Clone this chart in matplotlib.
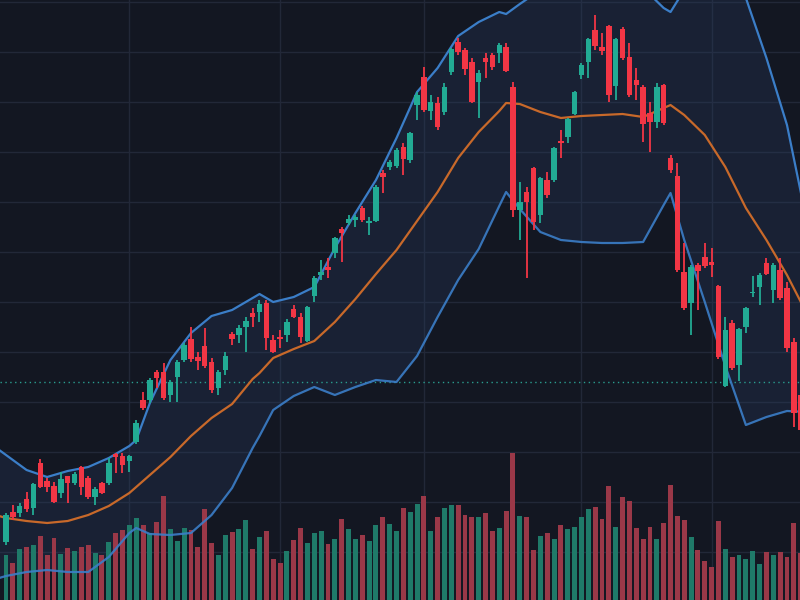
"""
Grafico de velas con bandas de Bollinger y volumen (estilo terminal oscuro).
"""
import numpy as np
import matplotlib
matplotlib.use("Agg")
import matplotlib.pyplot as plt

#<---------------------------Datos---------------------------->
opens = [58, 88, 87, 101, 92, 137, 119, 114, 107, 124, 117, 133, 122, 103, 117, 117, 146, 144, 139, 158,
         200, 200, 228, 228, 205, 223, 240, 261, 243, 254, 238, 212, 230, 266, 265, 273, 287, 288, 297, 260,
         263, 265, 291, 283, 259, 304, 325, 333, 347, 371, 377, 380, 392, 377, 379, 427, 433, 434, 453, 440,
         495, 523, 489, 497, 488, 528, 558, 550, 538, 518, 542, 545, 547, 553, 513, 390, 408, 432, 385, 420,
         420, 459, 463, 486, 525, 538, 570, 553, 574, 514, 571, 543, 520, 513, 487, 478, 515, 442, 424, 328,
         297, 335, 343, 338, 314, 214, 277, 235, 273, 307, 313, 337, 310, 330, 312, 258, 205]
closes = [85, 83, 94, 91, 116, 113, 113, 98, 121, 117, 126, 113, 103, 111, 107, 137, 143, 135, 144, 177,
          192, 220, 222, 202, 218, 238, 255, 241, 239, 234, 210, 228, 244, 261, 272, 279, 283, 296, 262, 248,
          261, 278, 283, 263, 293, 322, 328, 330, 362, 367, 381, 383, 380, 379, 413, 423, 438, 450, 441, 467,
          505, 490, 498, 473, 513, 551, 548, 531, 498, 527, 538, 533, 555, 529, 390, 398, 398, 378, 422, 405,
          452, 457, 481, 508, 535, 561, 554, 549, 505, 561, 542, 505, 515, 476, 478, 513, 477, 430, 330, 292,
          333, 329, 334, 335, 243, 270, 232, 271, 292, 308, 325, 326, 335, 302, 252, 187, 170]
highs = [87, 95, 97, 108, 117, 141, 122, 118, 128, 124, 128, 134, 124, 113, 118, 142, 147, 147, 145, 180,
         208, 222, 230, 237, 220, 240, 257, 273, 248, 272, 242, 230, 248, 268, 275, 283, 292, 300, 300, 265,
         270, 281, 295, 287, 294, 324, 340, 342, 363, 373, 385, 385, 394, 383, 415, 430, 440, 452, 457, 468,
         508, 533, 505, 503, 517, 552, 562, 552, 542, 530, 547, 547, 557, 557, 518, 418, 413, 433, 423, 428,
         453, 470, 482, 509, 537, 562, 585, 567, 575, 562, 573, 557, 532, 515, 498, 517, 516, 445, 437, 357,
         335, 337, 357, 352, 315, 283, 280, 272, 293, 324, 327, 342, 337, 342, 318, 262, 210]
lows = [55, 80, 83, 88, 85, 112, 108, 97, 102, 97, 115, 105, 101, 95, 106, 115, 127, 127, 128, 156,
        190, 197, 212, 200, 198, 198, 238, 238, 230, 232, 207, 205, 225, 255, 257, 248, 273, 278, 250, 247,
        252, 258, 282, 257, 258, 298, 320, 322, 342, 338, 375, 373, 378, 365, 378, 407, 430, 432, 425, 437,
        480, 488, 480, 470, 485, 525, 545, 525, 497, 482, 522, 530, 537, 528, 383, 360, 322, 370, 377, 402,
        418, 442, 457, 485, 521, 522, 550, 545, 498, 500, 540, 503, 500, 458, 448, 472, 475, 427, 328, 290,
        265, 290, 332, 323, 241, 213, 230, 219, 267, 303, 295, 325, 297, 300, 248, 173, 160]
volumes = [45, 37, 51, 53, 55, 64, 45, 62, 46, 52, 49, 53, 55, 47, 45, 58, 67, 70, 75, 82,
           75, 67, 78, 104, 71, 59, 72, 70, 53, 91, 57, 45, 65, 68, 71, 80, 51, 63, 69, 41,
           37, 49, 60, 72, 57, 67, 69, 56, 61, 81, 71, 61, 65, 59, 75, 83, 76, 69, 92, 88,
           96, 104, 69, 83, 92, 95, 95, 85, 83, 83, 87, 69, 72, 89, 147, 84, 83, 50, 64, 67,
           61, 75, 71, 73, 83, 91, 93, 81, 114, 73, 103, 99, 72, 61, 73, 61, 77, 115, 84, 80,
           63, 50, 39, 33, 79, 51, 43, 45, 41, 49, 36, 48, 45, 48, 43, 77, 47]

# Bandas de Bollinger
band_days = [-1, 0, 3, 6, 9, 12, 15, 18, 19, 21, 24, 27, 30, 33, 36, 37, 39, 42, 45, 48, 51, 54, 57,
             60, 63, 66, 69, 72, 73, 75, 78, 81, 84, 87, 90, 93, 96, 97, 99, 102, 105, 108, 111, 114, 117]
upper = [150, 145, 130, 123, 129, 133, 142, 154, 160, 197, 240, 267, 284, 290, 302, 306, 298, 303, 313,
         352, 387, 420, 462, 508, 532, 564, 578, 588, 586, 596, 610, 625, 630, 630, 625, 612, 592, 588,
         610, 630, 625, 602, 542, 475, 375]
middle = [84, 82, 79, 77, 79, 85, 94, 107, 113, 125, 143, 164, 182, 196, 221, 227, 242, 251, 259,
          278, 301, 326, 350, 379, 408, 442, 468, 489, 497, 496, 488, 482, 484, 485, 486, 483, 492, 495,
          485, 465, 433, 392, 360, 325, 285]
lower = [22, 24, 28, 30, 28, 28, 43, 67, 72, 66, 65, 67, 85, 112, 152, 164, 190, 204, 213,
         205, 213, 220, 218, 244, 283, 320, 351, 394, 408, 391, 368, 360, 358, 357, 357, 358, 395, 407,
         360, 298, 234, 175, 183, 189, 188]

price_line = 218
grid_prices = np.arange(48, 600, 50)
month_days = [18, 40, 61, 84, 103]

#<---------------------------Estilo---------------------------->
bg = "#131722"
up_col = "#22ab94"
down_col = "#f23645"
vol_up = "#1f7a69"
vol_down = "#9a3848"
band_col = "#3b7ec8"
mid_col = "#c8692a"

days = np.arange(len(opens))
opens = np.array(opens)
closes = np.array(closes)
rising = closes >= opens
cols = np.where(rising, up_col, down_col)
vcols = np.where(rising, vol_up, vol_down)

fig = plt.figure(figsize=(8, 6), dpi=100, facecolor=bg)
ax = fig.add_axes([0, 0, 1, 1])
ax.set_facecolor(bg)

ax.fill_between(band_days, lower, upper, color="#2a3e66", alpha=0.28, lw=0, zorder=1)

# volumen en la parte baja (altura en fraccion del eje)
vol_top = 600
ax.bar(days, np.array(volumes) / vol_top, width=0.72, bottom=0, color=vcols,
       transform=ax.get_xaxis_transform(), zorder=2)

ax.plot(band_days, upper, color=band_col, lw=1.6, zorder=3)
ax.plot(band_days, lower, color=band_col, lw=1.6, alpha=0.9, zorder=3)
ax.plot(band_days, middle, color=mid_col, lw=1.6, zorder=3)

ax.axhline(price_line, color="#2a9d8f", lw=1, ls=(0, (1, 2.5)), zorder=2.5)

ax.vlines(days, lows, highs, colors=cols, lw=1.3, zorder=4)
body = np.abs(closes - opens)
body = np.maximum(body, 1.5)
ax.bar(days, body, bottom=np.minimum(opens, closes), width=0.8, color=cols, zorder=5)

ax.set_xlim(-0.88, 115.9)
ax.set_ylim(0, 600)
ax.set_yticks(grid_prices)
ax.set_xticks(month_days)
ax.grid(color="#222838", lw=1)
ax.set_axisbelow(True)
ax.tick_params(length=0, labelleft=False, labelbottom=False)
for s in ax.spines.values():
    s.set_visible(False)

plt.savefig("out.png", dpi=100, facecolor=bg)
